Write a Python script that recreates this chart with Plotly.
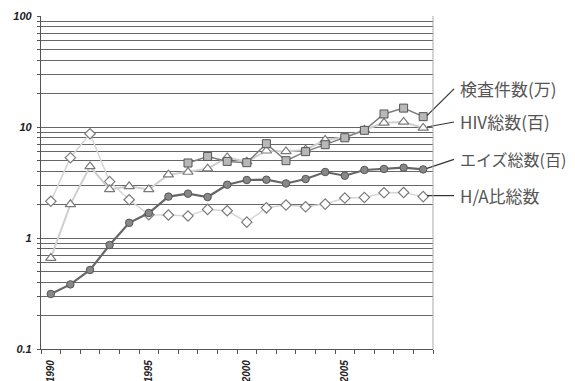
import math
import plotly.graph_objects as go

years = list(range(1990, 2010))

# 検査件数(万) — starts in 1997
test_years = list(range(1997, 2010))
test_counts = [4.74, 5.43, 4.9, 4.77, 7.07, 4.97, 6.0, 6.93, 8.0, 9.33, 13.1, 14.8, 12.4]

# HIV総数(百)
hiv_total = [0.66, 2.01, 4.42, 2.74, 2.92, 2.74, 3.72, 3.93, 4.21, 5.32,
             4.87, 6.11, 6.03, 6.25, 7.64, 8.1, 9.4, 10.9, 11.1, 9.8]

# エイズ総数(百)
aids_total = [0.313, 0.382, 0.515, 0.865, 1.37, 1.68, 2.36, 2.51, 2.34, 3.02,
              3.33, 3.35, 3.10, 3.40, 3.93, 3.64, 4.10, 4.19, 4.30, 4.15]

# H/A比総数
ha_ratio = [2.14, 5.29, 8.7, 3.22, 2.21, 1.62, 1.61, 1.58, 1.81, 1.76,
            1.39, 1.87, 1.98, 1.91, 2.02, 2.29, 2.32, 2.56, 2.57, 2.36]

series_labels = ["検査件数(万)", "HIV総数(百)", "エイズ総数(百)", "H/A比総数"]

y_tick_vals = [m * 10 ** e for e in (-1, 0, 1) for m in range(1, 10)] + [100]
y_tick_text = [("0.1" if v == 0.1 else "1" if v == 1 else "10" if v == 10 else "100" if v == 100 else "")
               for v in y_tick_vals]

x_tick_vals = [1990, 1995, 2000, 2005]
x_tick_text = ["1990", "1995", "2000", "2005"]

fig = go.Figure()

fig.add_trace(go.Scatter(
    x=years, y=ha_ratio, mode="lines+markers", name=series_labels[3],
    line=dict(color="#d6d6d6", width=1.5),
    marker=dict(symbol="diamond", size=8, color="white", line=dict(color="#7a7a7a", width=1.2)),
))
fig.add_trace(go.Scatter(
    x=years, y=hiv_total, mode="lines+markers", name=series_labels[1],
    line=dict(color="#cfcfcf", width=2),
    marker=dict(symbol="triangle-up", size=9, color="white", line=dict(color="#7a7a7a", width=1.2)),
))
fig.add_trace(go.Scatter(
    x=test_years, y=test_counts, mode="lines+markers", name=series_labels[0],
    line=dict(color="#7c7c7c", width=1.5),
    marker=dict(symbol="square", size=8, color="#b8b8b8", line=dict(color="#555555", width=1)),
))
fig.add_trace(go.Scatter(
    x=years, y=aids_total, mode="lines+markers", name=series_labels[2],
    line=dict(color="#666666", width=2.2),
    marker=dict(symbol="circle", size=7.5, color="#888888", line=dict(color="#555555", width=1)),
))

# leader lines and labels attached to the last point of each series
last_vals = [test_counts[-1], hiv_total[-1], aids_total[-1], ha_ratio[-1]]
label_rise = [27.7, 6.0, 10.0, 1.0]
label_size = [17, 17, 16, 17]

shapes = []
annotations = []
for lab, v, rise, fs in zip(series_labels, last_vals, label_rise, label_size):
    shapes.append(dict(
        type="line", xref="paper", yref="y",
        xsizemode="pixel", xanchor=1, x0=-6, x1=21,
        ysizemode="pixel", yanchor=v, y0=1, y1=rise,
        line=dict(color="#333333", width=1.2),
    ))
    annotations.append(dict(
        xref="paper", yref="y", x=1, y=math.log10(v), xanchor="left", yanchor="middle",
        xshift=25, yshift=rise, showarrow=False, text=lab,
        font=dict(family="Noto Sans CJK JP", size=fs, color="#555555"),
    ))

fig.update_layout(
    width=575, height=381,
    margin=dict(l=41, r=142, t=16, b=32),
    paper_bgcolor="white", plot_bgcolor="white",
    showlegend=False,
    shapes=shapes, annotations=annotations,
)

fig.update_xaxes(
    range=[1989.5, 2009.5], automargin=False,
    tickmode="array", tickvals=x_tick_vals, ticktext=x_tick_text,
    tickangle=-90, ticks="", ticklen=0, ticklabelstandoff=6,
    tickfont=dict(family="Liberation Sans", size=10, color="#222", weight="bold", style="italic"),
    showgrid=False, zeroline=False,
    showline=True, linecolor="#555", linewidth=1.2, mirror=False,
    minor=dict(ticks="outside", ticklen=4, tickcolor="#555", tick0=1989.5, dtick=1, showgrid=False),
)
fig.update_yaxes(
    type="log", range=[-1, 2], automargin=False,
    tickmode="array", tickvals=y_tick_vals, ticktext=y_tick_text,
    ticks="outside", ticklen=3, tickcolor="#555", ticklabelstandoff=3,
    tickfont=dict(family="Liberation Sans", size=11, color="#222", weight="bold", style="italic"),
    showgrid=True, gridcolor="#666666", gridwidth=1.2,
    showline=True, linecolor="#555", linewidth=1.2, zeroline=False,
)

# light right border of the plot area
fig.add_shape(type="line", xref="paper", yref="paper", x0=1, x1=1, y0=0, y1=1,
              line=dict(color="#aaaaaa", width=1))

fig.write_html("out.html", config={"displayModeBar": False},
               post_script="document.body.style.margin='0px';")
